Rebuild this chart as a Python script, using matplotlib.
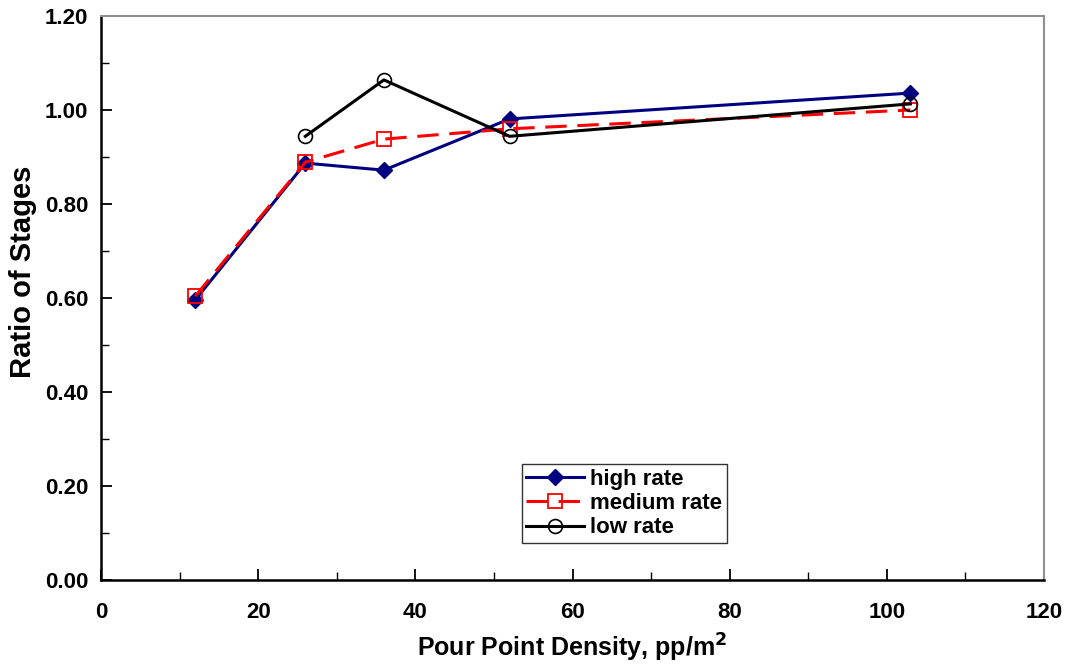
import matplotlib.pyplot as plt
from matplotlib.ticker import MultipleLocator, FormatStrFormatter

# Data
density = [12, 26, 36, 52, 103]
high_rate = [0.596, 0.887, 0.872, 0.981, 1.036]
medium_rate = [0.604, 0.889, 0.938, 0.960, 1.000]
low_density = [26, 36, 52, 103]
low_rate = [0.944, 1.064, 0.944, 1.013]

plt.rcParams['font.family'] = ['Liberation Sans', 'DejaVu Sans']
plt.rcParams['font.weight'] = 'bold'

fig = plt.figure(figsize=(10.68, 6.69), dpi=100)
ax = fig.add_axes([101 / 1068, 1 - 580 / 669, 943 / 1068, 564 / 669])

ax.plot(density, high_rate, color='#000080', lw=2.2, marker='D', ms=8,
        label='high rate')
ax.plot(density, medium_rate, color='#ff0000', lw=2.2, ls='--', dashes=(7, 3.5),
        marker='s', ms=10, mfc='none', mec='#ff0000', mew=1.3, label='medium rate')
ax.plot(low_density, low_rate, color='black', lw=2.2, marker='o', ms=10,
        mfc='none', mec='black', mew=1.2, label='low rate')

ax.set_xlim(0, 120)
ax.set_ylim(0, 1.2)
ax.xaxis.set_major_locator(MultipleLocator(20))
ax.xaxis.set_minor_locator(MultipleLocator(10))
ax.yaxis.set_major_locator(MultipleLocator(0.2))
ax.yaxis.set_minor_locator(MultipleLocator(0.1))
ax.yaxis.set_major_formatter(FormatStrFormatter('%.2f'))

ax.tick_params(which='both', direction='in', top=False, right=False, labelsize=16)
ax.tick_params(which='major', length=8, width=1.3)
ax.tick_params(which='minor', length=6, width=1.0)
ax.tick_params(axis='x', pad=16)
ax.tick_params(axis='y', pad=9)

for side in ['left', 'bottom']:
    ax.spines[side].set_linewidth(1.8)
    ax.spines[side].set_color('black')
for side in ['top', 'right']:
    ax.spines[side].set_linewidth(1.5)
    ax.spines[side].set_color('#909090')

ax.set_xlabel('Pour Point Density, pp/m$^\\mathbf{2}$', fontsize=18, fontweight='bold', labelpad=6)
ax.set_ylabel('Ratio of Stages', fontsize=21, fontweight='bold')
ax.yaxis.set_label_coords(-0.068, 0.546)

leg = ax.legend(loc='lower left', bbox_to_anchor=(0.446, 0.066), fontsize=16,
                frameon=True, fancybox=False, edgecolor='black', handlelength=2.6,
                borderpad=0.2, labelspacing=0.15, handletextpad=0.3, borderaxespad=0)
leg.get_frame().set_linewidth(1.0)

fig.savefig('out.png', dpi=100)
